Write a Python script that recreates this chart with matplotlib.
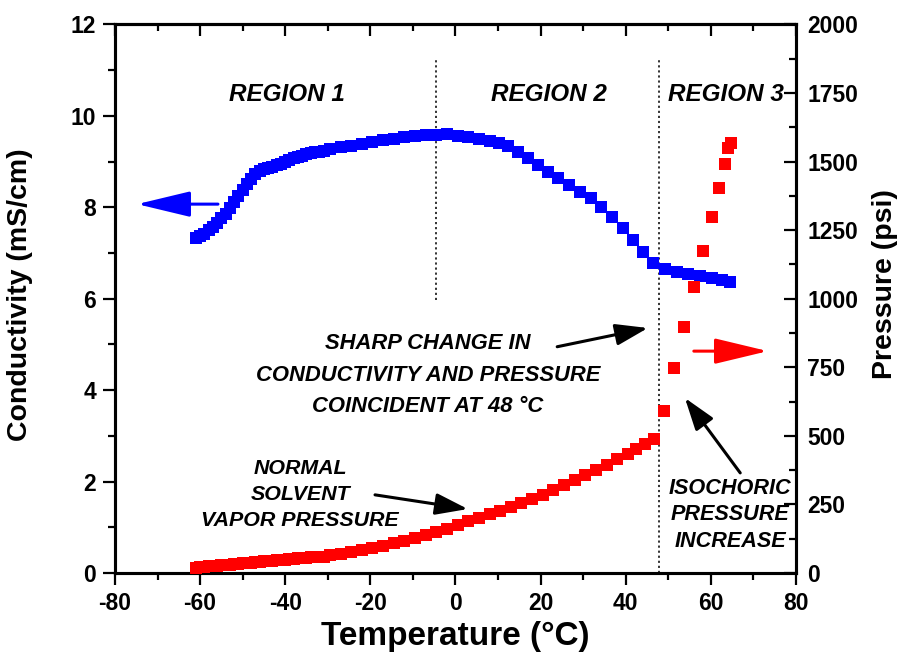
import matplotlib
matplotlib.use("Agg")
import matplotlib.pyplot as plt
from matplotlib.ticker import MultipleLocator

plt.rcParams['font.family'] = ['Liberation Sans', 'DejaVu Sans']
plt.rcParams['font.weight'] = 'bold'
plt.rcParams['axes.unicode_minus'] = False

# Conductivity (mS/cm) vs temperature (°C)
cond_temp = [-61, -60, -59, -58, -57, -56, -55, -54, -53, -52, -51, -50, -49, -48,
             -47, -46, -45, -44, -43, -42, -41, -40, -39, -38, -37, -36, -35, -34,
             -33, -32, -31,
             -29.5, -27, -24.5, -22, -19.5, -17, -14.5, -12, -9.5, -7, -4.5, -2,
             0.5, 3, 5.5, 8, 10.3, 12.3, 14.7, 17.0, 19.4, 21.7, 24.1, 26.7, 29.3,
             31.8, 34.2, 36.8, 39.4, 41.7, 44.1, 46.4, 49.2, 52.0, 54.6, 57.4, 60.3,
             62.6, 64.5]
cond_vals = [7.33, 7.37, 7.42, 7.50, 7.57, 7.66, 7.76, 7.86, 7.98, 8.11, 8.25, 8.39,
             8.52, 8.63, 8.72, 8.79, 8.83, 8.86, 8.89, 8.92, 8.95, 8.99, 9.03, 9.07,
             9.10, 9.13, 9.16, 9.18, 9.20, 9.22, 9.24,
             9.27, 9.31, 9.35, 9.39, 9.43, 9.47, 9.50, 9.53, 9.56, 9.58, 9.59, 9.60,
             9.57, 9.54, 9.50, 9.46, 9.41, 9.34, 9.21, 9.08, 8.93, 8.77, 8.64, 8.49,
             8.34, 8.21, 8.01, 7.79, 7.55, 7.29, 7.02, 6.78, 6.65, 6.59, 6.54, 6.50,
             6.46, 6.41, 6.37]

# Pressure (psi) vs temperature (°C)
pres_temp = [-61, -60, -59, -58, -57, -56, -55, -54, -53, -52, -51, -50, -49, -48,
             -47, -46, -45, -44, -43, -42, -41, -40, -39, -38, -37, -36, -35, -34,
             -33, -32, -31,
             -29.5, -27, -24.5, -22, -19.5, -17, -14.5, -12, -9.5, -7, -4.5, -2,
             0.5, 3, 5.5, 8, 10.5, 13, 15.5, 18, 20.5, 23, 25.5, 28, 30.5, 33, 35.5,
             38, 40.5, 42.5, 44.5, 46.6,
             49.0, 51.3, 53.7, 56.0, 58.2, 60.3, 61.9, 63.3, 64.0, 64.7]
pres_vals = [20, 21, 22, 24, 25, 26, 28, 29, 30, 32, 33, 35, 36, 37, 39, 40, 42, 43,
             45, 46, 48, 49, 50, 52, 53, 54, 55, 57, 58, 59, 60,
             64, 70, 77, 85, 92, 100, 108, 117, 127, 138, 150, 162, 175, 188, 201,
             214, 227, 241, 255, 270, 286, 303, 321, 339, 357, 375, 394, 414, 434,
             452, 469, 490,
             591, 747, 897, 1043, 1174, 1298, 1404, 1491, 1550, 1568]

region_labels = ["REGION 1", "REGION 2", "REGION 3"]
region_x = [-39.5, 22.0, 63.6]
boundary_temps = [-4.6, 47.7]

fig = plt.figure(figsize=(8.98, 6.60), dpi=100)
ax = fig.add_axes([0.128, 0.1318, 0.7584, 0.8311])
ax2 = ax.twinx()

blue = (0.0, 0.0, 1.0)
red = (1.0, 0.0, 0.0)

ax.plot(cond_temp, cond_vals, linestyle='none', marker='s', markersize=8.8,
        markeredgewidth=0, color=blue, zorder=3)
ax2.plot(pres_temp, pres_vals, linestyle='none', marker='s', markersize=8.8,
         markeredgewidth=0, color=red, zorder=3)

ax.set_xlim(-80, 80)
ax.set_ylim(0, 12)
ax2.set_ylim(0, 2000)

ax.xaxis.set_major_locator(MultipleLocator(20))
ax.xaxis.set_minor_locator(MultipleLocator(10))
ax.yaxis.set_major_locator(MultipleLocator(2))
ax.yaxis.set_minor_locator(MultipleLocator(1))
ax2.yaxis.set_major_locator(MultipleLocator(250))
ax2.yaxis.set_minor_locator(MultipleLocator(125))

lw_spine = 2.2
for a in (ax, ax2):
    for s in a.spines.values():
        s.set_linewidth(lw_spine)

ax.tick_params(axis='both', which='major', direction='out', length=8.6, width=1.6,
               labelsize=16.5, pad=5)
ax.tick_params(axis='both', which='minor', direction='out', length=5, width=1.6)
ax2.tick_params(axis='y', which='major', direction='in', length=8.6, width=1.6,
                labelsize=16.5, pad=8)
ax2.tick_params(axis='y', which='minor', direction='in', length=5, width=1.6)

top = ax.secondary_xaxis('top')
top.xaxis.set_major_locator(MultipleLocator(20))
top.xaxis.set_minor_locator(MultipleLocator(10))
top.tick_params(axis='x', which='major', direction='in', length=8.6, width=1.6,
                labelsize=0, labeltop=False)
top.tick_params(axis='x', which='minor', direction='in', length=5, width=1.6)
top.spines['top'].set_linewidth(lw_spine)

for lab in ax.get_xticklabels() + ax.get_yticklabels() + ax2.get_yticklabels():
    lab.set_fontweight('bold')

ax.set_xlabel("Temperature (°C)", fontsize=24, fontweight='bold')
ax.set_ylabel("Conductivity (mS/cm)", fontsize=20.5, fontweight='bold')
ax2.set_ylabel("Pressure (psi)", fontsize=20.5, fontweight='bold')
ax.xaxis.set_label_coords(0.5, -0.088)
ax.yaxis.set_label_coords(-0.120, 0.508)
ax2.yaxis.set_label_coords(1.112, 0.527)

# region boundaries
ax.plot([boundary_temps[0]] * 2, [5.97, 11.27], linestyle=(0, (1.2, 1.6)),
        color='#222222', lw=1.3, zorder=2)
ax.plot([boundary_temps[1]] * 2, [0, 11.27], linestyle=(0, (1.2, 1.6)),
        color='#222222', lw=1.3, zorder=2)

txt = dict(fontweight='bold', fontstyle='italic', ha='center', va='center',
           color='black')
for lbl, xr in zip(region_labels, region_x):
    ax2.text(xr, 1743, lbl, fontsize=17.5, **txt)

ax2.text(-6.5, 4.33 * 2000 / 12, "SHARP CHANGE IN\nCONDUCTIVITY AND PRESSURE\nCOINCIDENT AT 48 °C",
         fontsize=15.8, linespacing=1.68, **txt)
ax2.text(-36.5, 1.71 * 2000 / 12, "NORMAL\nSOLVENT\nVAPOR PRESSURE",
         fontsize=15.4, linespacing=1.46, **txt)
ax2.text(64.5, 1.27 * 2000 / 12, "ISOCHORIC\nPRESSURE\nINCREASE",
         fontsize=15.6, linespacing=1.36, **txt)

# axis-direction arrows
ax.annotate("", xy=(-74.8, 8.07), xytext=(-55.8, 8.07),
            arrowprops=dict(arrowstyle='-|>,head_length=1.5,head_width=0.36',
                            mutation_scale=22, lw=2.2, color=blue,
                            shrinkA=0, shrinkB=0))
ax2.annotate("", xy=(73.4, 809), xytext=(56.0, 809),
             arrowprops=dict(arrowstyle='-|>,head_length=1.5,head_width=0.36',
                             mutation_scale=22, lw=2.2, color=red,
                             shrinkA=0, shrinkB=0))

# pointer arrows
pa = dict(arrowstyle='-|>,head_length=0.9,head_width=0.3', mutation_scale=22,
          lw=2.2, color='black', shrinkA=0, shrinkB=0)
ax.annotate("", xy=(45.2, 5.36), xytext=(23.9, 4.95), arrowprops=pa)
ax.annotate("", xy=(2.9, 1.40), xytext=(-18.9, 1.71), arrowprops=pa)
ax.annotate("", xy=(53.9, 3.83), xytext=(66.9, 2.19), arrowprops=pa)

fig.savefig("out.png", dpi=100)
